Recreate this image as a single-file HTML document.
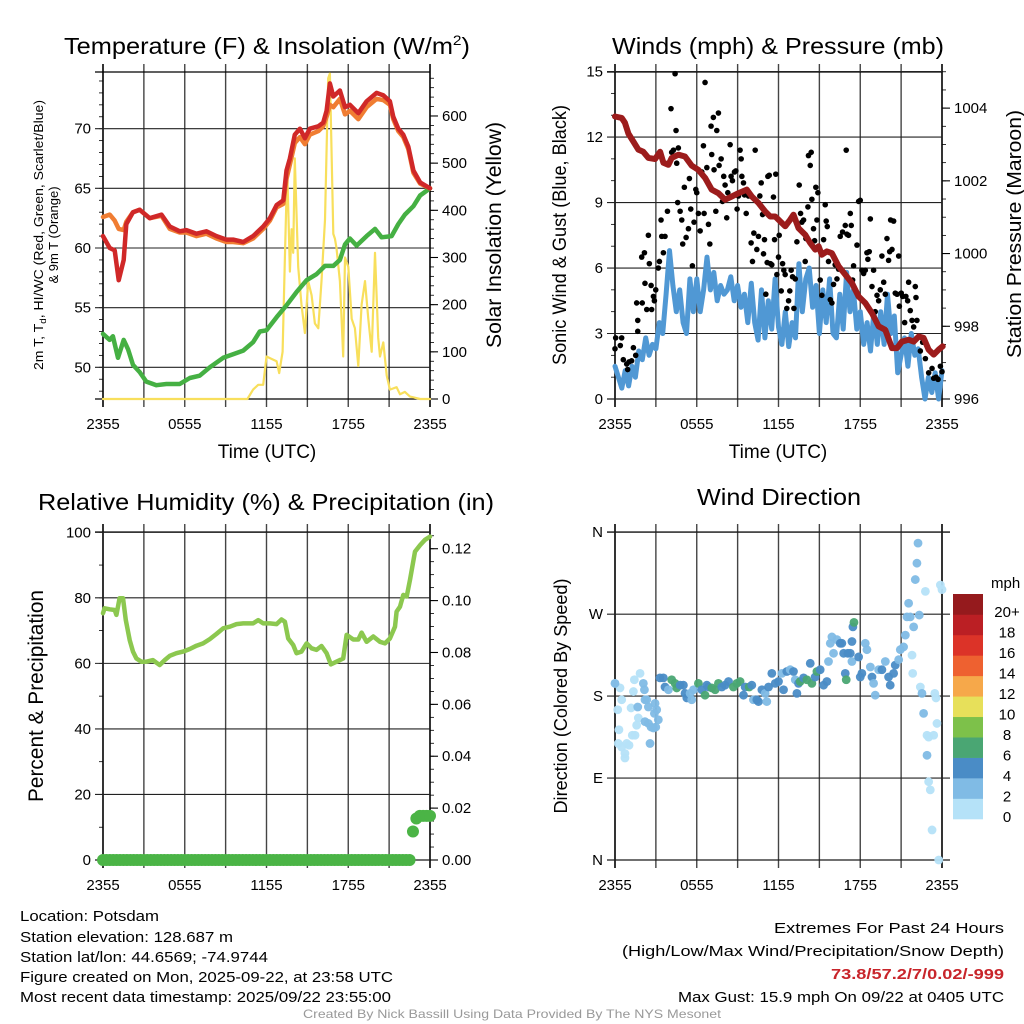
<!DOCTYPE html>
<html><head><meta charset="utf-8"><title>Station Meteogram</title>
<style>
html,body{margin:0;padding:0;background:#fff;}
svg{display:block;font-family:"Liberation Sans",Arial,sans-serif;}
</style></head>
<body>
<svg id="fig" width="1024" height="1024" viewBox="0 0 1024 1024" xmlns="http://www.w3.org/2000/svg">
<rect x="0" y="0" width="1024" height="1024" fill="#fff"/>
<text x="267" y="54" font-size="23" text-anchor="middle" textLength="406" lengthAdjust="spacingAndGlyphs">Temperature (F) &amp; Insolation (W/m<tspan dy="-9" font-size="14">2</tspan><tspan dy="9">)</tspan></text>
<text x="778" y="54" font-size="23" text-anchor="middle" textLength="332" lengthAdjust="spacingAndGlyphs">Winds (mph) &amp; Pressure (mb)</text>
<text x="266" y="510" font-size="23" text-anchor="middle" textLength="456" lengthAdjust="spacingAndGlyphs">Relative Humidity (%) &amp; Precipitation (in)</text>
<text x="779" y="505" font-size="23" text-anchor="middle" textLength="164" lengthAdjust="spacingAndGlyphs">Wind Direction</text>
<text x="267" y="458" font-size="19" text-anchor="middle">Time (UTC)</text>
<text x="778" y="458" font-size="19" text-anchor="middle">Time (UTC)</text>
<text transform="translate(43,235) rotate(-90)" font-size="13" text-anchor="middle" textLength="270" lengthAdjust="spacingAndGlyphs">2m T, T<tspan font-size="9" dy="3">d</tspan><tspan dy="-3">, HI/WC (Red, Green, Scarlet/Blue)</tspan></text>
<text transform="translate(58,235) rotate(-90)" font-size="13" text-anchor="middle">&amp; 9m T (Orange)</text>
<text transform="translate(501,235) rotate(-90)" font-size="21" text-anchor="middle" textLength="226" lengthAdjust="spacingAndGlyphs">Solar Insolation (Yellow)</text>
<text transform="translate(566,235) rotate(-90)" font-size="19" text-anchor="middle" textLength="260" lengthAdjust="spacingAndGlyphs">Sonic Wind &amp; Gust (Blue, Black)</text>
<text transform="translate(1021,234) rotate(-90)" font-size="20" text-anchor="middle" textLength="248" lengthAdjust="spacingAndGlyphs">Station Pressure (Maroon)</text>
<text transform="translate(43,696) rotate(-90)" font-size="21" text-anchor="middle" textLength="212" lengthAdjust="spacingAndGlyphs">Percent &amp; Precipitation</text>
<text transform="translate(567,696) rotate(-90)" font-size="18" text-anchor="middle" textLength="235" lengthAdjust="spacingAndGlyphs">Direction (Colored By Speed)</text>
<g font-size="15">
<text x="20" y="921" textLength="139" lengthAdjust="spacingAndGlyphs">Location: Potsdam</text>
<text x="20" y="942" textLength="213" lengthAdjust="spacingAndGlyphs">Station elevation: 128.687 m</text>
<text x="20" y="962" textLength="248" lengthAdjust="spacingAndGlyphs">Station lat/lon: 44.6569; -74.9744</text>
<text x="20" y="982" textLength="373" lengthAdjust="spacingAndGlyphs">Figure created on Mon, 2025-09-22, at 23:58 UTC</text>
<text x="20" y="1002" textLength="371" lengthAdjust="spacingAndGlyphs">Most recent data timestamp: 2025/09/22 23:55:00</text>
</g>
<g font-size="15" text-anchor="end">
<text x="1004" y="933" textLength="230" lengthAdjust="spacingAndGlyphs">Extremes For Past 24 Hours</text>
<text x="1004" y="956" textLength="382" lengthAdjust="spacingAndGlyphs">(High/Low/Max Wind/Precipitation/Snow Depth)</text>
<text x="1004" y="979" font-weight="bold" fill="#c8252b" textLength="173" lengthAdjust="spacingAndGlyphs">73.8/57.2/7/0.02/-999</text>
<text x="1004" y="1002" textLength="326" lengthAdjust="spacingAndGlyphs">Max Gust: 15.9 mph On 09/22 at 0405 UTC</text>
</g>
<text x="512" y="1018" font-size="12" fill="#999" text-anchor="middle" textLength="418" lengthAdjust="spacingAndGlyphs">Created By Nick Bassill Using Data Provided By The NYS Mesonet</text>
<g id="layer"></g>
</svg>
<script>
const xTickLabels = ["2355","0555","1155","1755","2355"];
const tempTimes = [0,0.49,0.86,1.15,1.52,1.71,2.2,2.69,3.43,4.29,4.9,5.63,6.12,6.86,7.59,8.33,9.06,9.55,10.29,11.02,11.76,12.25,12.74,13.23,13.47,13.72,14.08,14.45,14.82,15.18,15.8,16.16,16.41,16.65,16.9,17.39,17.76,18.12,18.74,19.35,20.08,20.57,21.06,21.31,21.67,22.04,22.41,22.78,23.27,24];
const tempValues = [61,60,59.8,57.3,59,62,63,63.2,62.5,62.8,61.8,61.4,61.5,61.2,61.4,61,60.7,60.7,60.5,61,61.8,62.5,63.6,64,66.5,67.5,69.5,70,69.2,70,70.2,70.5,71.5,73.8,72.7,73.2,71.8,72,71.3,72.3,73,72.8,72.3,71,70,69.5,68.5,66.5,65.5,65];
const temp9mValues = [62.6,62.8,62.3,61.6,61.5,62.2,63,63.2,62.5,62.7,61.6,61.3,61.3,61,61.2,60.8,60.5,60.5,60.4,60.8,61.6,62.3,63.4,63.7,65.8,67,68.8,69.3,68.7,69.5,69.8,70.2,71,72,71.8,72.5,71.2,71.5,70.8,71.8,72.5,72.4,72,70.8,69.8,69.3,68.3,66.3,65.4,65];
const dewTimes = [0,0.49,0.73,1.1,1.52,1.84,2.2,2.69,3.18,3.92,4.65,5.63,6.37,7.1,7.84,8.82,9.55,10.29,11.02,11.51,12,12.74,13.47,14.2,14.94,15.67,16.29,16.9,17.39,17.76,18.12,18.61,19.35,19.96,20.45,21.18,21.67,22.16,22.78,23.27,24];
const dewValues = [52.8,52.3,52.6,50.8,52.3,51.5,50.2,49.6,48.8,48.5,48.6,48.6,49.1,49.3,50,50.8,51.1,51.4,52.1,53,53.1,54.2,55.2,56.3,57.3,57.8,58.5,58.5,59,60.3,60.8,60.2,61,61.6,60.9,61,62,62.8,63.5,64.4,65];
const solarTimes = [0,10.6,11.02,11.39,11.76,12,12.37,12.74,12.93,13.18,13.35,13.52,13.72,13.84,13.96,14.08,14.33,14.57,14.82,15.06,15.31,15.55,15.8,16.04,16.29,16.53,16.65,16.9,17.02,17.14,17.39,17.63,17.76,18,18.25,18.49,18.74,18.98,19.23,19.47,19.72,19.96,20.2,20.33,20.57,20.82,21.06,21.55,21.8,22.16,22.53,23.27,24];
const solarValues = [0,0,20,30,30,90,85,80,55,100,300,490,270,360,310,510,280,200,140,250,220,160,150,250,380,680,690,350,340,320,250,90,300,280,170,150,70,200,250,170,100,310,130,90,120,50,20,25,10,15,5,0,0];

const windValues = [1.5,1.0,0.5,1.3,0.6,1.5,1.0,2.2,1.8,2.8,2.0,2.5,2.3,3.5,3.0,4.8,6.8,5.2,4.0,5.0,3.5,3.0,5.5,4.0,5.5,4.0,5.0,6.5,5.0,5.8,4.5,5.2,4.8,5.0,5.6,4.5,5.2,4.2,4.8,3.5,5.3,3.5,2.7,5.0,2.8,4.5,3.2,5.5,3.3,2.5,4.0,2.4,3.5,2.8,6.2,4.0,5.5,6.0,4.2,5.2,3.0,5.0,3.5,5.5,3.0,2.8,4.8,3.2,5.8,4.0,5.0,3.2,4.0,2.5,3.5,2.2,4.0,2.5,4.0,2.5,4.8,3.0,3.8,1.2,2.0,2.8,1.5,3.0,2.0,2.3,1.0,0.0,1.0,0.3,1.2,0.0,1.3];
const gustTimes = [0,0.05,0.49,0.39,0.61,0.86,0.93,1.03,1.22,1.35,1.52,1.67,1.67,1.59,1.96,2.16,2.0,2.2,2.33,2.45,2.52,2.65,2.69,2.82,2.89,2.99,3.18,3.26,3.38,3.43,3.55,3.67,3.85,4.11,4.16,4.29,4.41,4.48,4.53,4.65,4.6,4.78,4.9,4.97,5.09,5.22,5.39,5.46,5.56,5.68,5.8,5.93,6.0,6.12,6.25,6.37,6.49,6.54,6.61,6.74,6.86,6.96,7.05,7.1,7.22,7.27,7.4,7.47,7.59,7.64,7.79,7.89,7.98,8.08,8.2,8.28,8.45,8.52,8.62,8.77,8.87,8.96,9.06,9.18,9.26,9.31,9.43,9.5,9.63,9.8,9.99,10.09,10.19,10.29,10.41,10.53,10.63,10.73,10.83,10.9,10.97,11.07,11.17,11.22,11.32,11.41,11.51,11.63,11.71,11.8,11.88,12,12.05,12.2,12.3,12.39,12.49,12.61,12.74,12.83,12.93,13.03,13.13,13.23,13.35,13.52,13.62,13.72,13.84,13.96,14.01,14.16,14.2,14.33,14.4,14.45,14.57,14.65,14.74,14.82,14.89,15.06,15.18,15.31,15.43,15.5,15.58,15.67,15.8,15.92,16.04,16.16,16.29,16.41,16.53,16.7,16.9,16.97,17.02,17.14,17.27,17.34,17.44,17.51,17.63,17.76,17.88,18,18.12,18.25,18.37,18.49,18.56,18.66,18.74,18.86,18.98,19.1,19.23,19.35,19.47,19.59,19.72,19.84,19.96,20.08,20.16,20.23,20.33,20.45,20.57,20.7,20.82,20.87,21.01,21.11,21.26,21.35,21.48,21.55,21.67,21.8,21.92,22.04,22.09,22.16,22.29,22.41,22.58,22.78,23.02,23.27,23.39,23.56,23.71,23.88,24];
const gustValues = [2.3,2.8,2.8,2.45,1.8,1.6,1.35,1.7,1.75,2.35,2.0,3.1,3.6,4.4,6.5,6.7,4.4,5.3,4.1,7.5,6.2,5.2,4.1,4.7,4.5,5.0,6.0,6.3,8.2,7.45,6.7,7.45,8.6,13.3,11.3,11.4,14.9,12.3,10.8,11.5,9.0,8.6,8.2,7.1,9.7,7.4,7.8,10.1,8.7,6.1,8.1,9.6,9.45,8.5,7.7,10.4,11.6,8.5,14.5,10.6,8.0,7.1,12.5,11.2,12.9,10.5,8.6,12.3,13.1,10.7,11.0,9.05,10.2,9.8,8.3,9.45,11.65,10.2,10.0,10.4,10.45,8.7,9.3,11.4,11.0,10.2,9.9,9.35,8.5,9.3,7.15,6.3,7.6,11.4,6.85,7.45,9.3,9.9,8.45,6.65,7.3,4.8,6.25,10.2,10.25,6.2,6.15,9.25,7.3,10.3,5.7,6.5,7.5,4.95,6.2,5.9,5.7,4.15,4.5,4.95,5.9,5.6,4.15,5.5,7.2,9.8,8.5,8.1,8.2,6.3,7.35,8.8,11.15,10.7,11.3,9.15,7.8,7.25,9.7,8.2,9.45,5.45,4.75,7.3,8.9,8.15,7.9,6.3,4.55,4.4,5.25,6.15,5.5,5.95,7.45,7.65,7.95,11.4,7.55,7.5,8.5,7.95,5.45,6.1,5.0,7.05,9.05,9.1,5.9,5.75,5.9,6.7,6.4,6.75,8.25,5.15,5.9,4.0,4.75,4.5,5.0,6.55,5.35,4.8,7.35,6.35,6.75,8.2,6.85,8.15,4.85,4.8,6.55,4.25,4.85,4.7,3.5,4.7,4.5,5.35,4.05,3.6,3.3,5.15,4.65,3.6,2.85,2.2,2.6,1.85,1.2,1.4,0.95,1.0,0.9,1.5,1.25];
const pressTimes = [0,0.49,0.73,0.98,1.35,1.71,2.08,2.45,2.94,3.31,3.55,3.92,4.16,4.65,5.14,5.63,6.12,6.61,7.1,7.59,8.08,8.57,9.06,9.67,10.04,10.53,11.02,11.39,11.76,12,12.49,12.86,13.1,13.47,13.96,14.33,14.69,14.94,15.18,15.55,15.92,16.41,16.9,17.39,17.88,18.37,18.86,19.35,19.84,20.33,20.7,21.06,21.55,21.92,22.29,22.65,23.02,23.39,23.76,24.05];
const pressValues = [1003.77,1003.73,1003.6,1003.3,1003.08,1002.86,1002.8,1002.63,1002.6,1002.8,1002.5,1002.44,1002.63,1002.72,1002.67,1002.42,1002.3,1002.08,1001.76,1001.66,1001.48,1001.57,1001.66,1001.76,1001.57,1001.39,1001.16,1001.02,1001.02,1000.93,1000.75,1000.93,1001.07,1000.7,1000.52,1000.29,1000.11,1000.2,999.97,1000.06,1000.01,999.65,999.42,999.19,998.82,998.64,998.36,998.0,997.9,997.4,997.4,997.58,997.63,997.58,997.72,997.68,997.36,997.22,997.36,997.45];

const rhTimes = [0,0.12,0.49,0.86,0.98,1.22,1.47,1.67,1.96,2.2,2.45,2.82,3.18,3.67,3.92,4.16,4.53,4.9,5.39,5.88,6.37,6.86,7.35,7.84,8.33,8.82,9.31,9.8,10.29,11.02,11.39,11.76,12.25,12.74,13.1,13.35,13.59,13.96,14.2,14.57,14.94,15.31,15.67,16.04,16.41,16.73,17.14,17.63,17.88,18.37,18.74,18.98,19.35,19.84,20.33,20.7,21.06,21.43,21.55,21.8,22.04,22.29,22.53,22.9,23.27,23.63,24];
const rhValues = [75.3,76.8,76.5,76.3,74.8,79.9,79.9,73.2,67.1,63.6,61.5,60.5,60.5,61,60.2,59.5,61,62.3,63.1,63.6,64.4,65.4,66.1,67.4,69,70.7,71.2,72,72.2,72.2,73.2,72.2,72.2,72,73.4,72.7,67.6,65.6,63.1,63.6,66.1,64.6,64.1,65.3,63.1,59.7,60.5,61.5,68.7,67.3,67.3,69.4,66.6,68.2,66.6,66.1,67.6,71.2,75.8,77.3,80.9,80.4,85.5,94.1,96.1,97.7,98.7];
const precipValues = [0,0,0,0,0,0,0,0,0,0,0,0,0,0,0,0,0,0,0,0,0,0,0,0,0,0,0,0,0,0,0,0,0,0,0,0,0,0,0,0,0,0,0,0,0,0,0,0,0,0,0,0,0,0,0,0,0,0,0,0,0,0,0,0,0,0,0,0,0,0,0,0,0,0,0,0,0,0,0,0,0,0,0,0,0,0,0,0,0,0,0,0.011,0.016,0.017,0.017,0.017,0.017];

const dirTimes = [0,0.2,0.37,0.49,0.29,0.24,0.49,0.73,0.86,1.03,0.73,1.18,1.27,1.47,1.35,1.42,1.71,1.84,1.59,0,1.67,2.08,2.16,2.2,2.33,2.45,2.2,2.45,2.65,2.82,2.57,2.94,3.06,3.18,2.89,2.99,3.3,3.55,3.67,3.92,4.16,4.41,4.53,4.78,5.02,5.14,5.27,5.51,5.63,5.76,6.12,6.37,6.61,6.74,6.86,7.1,7.35,7.59,7.84,8.08,8.33,8.69,8.94,9.18,9.43,9.55,9.85,10.04,10.16,10.41,10.53,10.78,11.02,11.14,11.27,11.51,11.76,12,12.25,12.37,12.61,12.86,13.1,13.23,13.35,13.47,13.59,13.84,14.08,14.33,14.45,14.69,14.82,15.06,15.31,15.55,15.67,15.8,15.92,16.04,16.29,16.53,16.65,16.78,16.9,16.97,17.09,17.27,17.39,17.46,17.54,17.39,17.88,18,18.12,18.37,18.49,18.74,18.86,18.98,19.1,19.35,19.59,19.84,20.08,20.2,20.45,20.57,20.82,20.94,21.18,21.31,21.55,21.43,21.67,21.92,21.8,21.85,22.04,22.16,22.24,22.33,22.78,22.41,22.53,22.65,22.9,23.02,22.9,23.02,23.14,23.27,23.39,23.47,23.56,23.63,23.76,23.88,24];
const dirValues = [194,165,189,176,143,128,124,117,128,126,112,167,137,137,185,198,156,205,148,194,168,194,187,176,176,168,152,150,146,145,128,172,165,154,161,146,200,200,190,187,198,194,189,192,192,183,178,183,176,187,194,187,181,192,190,189,187,194,190,192,196,190,194,196,181,190,190,192,176,176,174,187,183,174,190,205,194,196,205,187,207,209,207,198,183,194,196,200,198,216,194,201,207,209,192,196,218,238,245,227,242,238,238,227,205,198,227,227,218,256,261,240,223,201,205,238,231,212,201,194,181,209,209,218,201,192,205,214,220,231,234,247,282,267,267,256,225,205,308,326,348,269,295,190,183,161,137,135,115,86,77,33,137,183,178,150,0,302,297];
const dirSpeeds = [1,1,1,1,1,1,1,1,1,1,1,1,1,1,1,1,1,1,1,3,3,3,3,3,3,3,3,3,3,3,3,3,3,3,3,3,4,4,4,3,6,6,6,4,4,4,4,3,2,3,6,4,6,4,4,6,6,6,4,4,4,6,6,6,4,4,6,4,3,4,4,4,3,2,4,4,4,4,2,4,4,3,4,3,4,4,6,4,6,4,6,4,6,4,4,4,2,2,2,2,2,4,4,4,4,6,4,4,2,4,6,4,4,4,4,2,2,2,4,2,2,2,4,2,4,4,4,4,2,2,2,2,2,2,2,3,1,1,2,2,2,2,1,1,2,3,1,1,3,1,1,1,1,1,1,1,1,1,1];
const speedBins = ["0","2","4","6","8","10","12","14","16","18","20+"];
const speedColors = ["#b5e2f8","#80bbe5","#4a8cc6","#4aa673","#7dc14a","#e7e05a","#f6a84a","#ee6130","#dc3328","#bb1f24","#951a1d"];

const NS = "http://www.w3.org/2000/svg";
const layer = document.getElementById("layer");
function mk(tag, attrs, parent){ const e=document.createElementNS(NS,tag); for(const k in attrs) e.setAttribute(k,attrs[k]); (parent||layer).appendChild(e); return e; }
function txt(str, attrs, parent){ const e=mk("text",attrs,parent); e.textContent=str; return e; }
const HPX = 327/24;
const xL = h => 103 + h*HPX;
const xR = h => 615 + h*HPX;
const yTemp = v => 128.7 + (70-v)*11.93;
const ySolar = w => 399 - w*0.4717;
const yWind = v => 399 - v*21.83;
const yPress = p => 399 - (p-996)*36.36;
const yRH = v => 860 - v*3.277;
const yPrecip = p => 860 - p*2594;
const yDir = d => 860 - d*0.9105;

function frame(x0, x1, y0, y1, hExtendRight, name){
  const g = mk("g",{});
  
  
  for(let i=0;i<=8;i++){
    const x = x0 + i*(x1-x0)/8;
    const l = mk("line",{x1:x,y1:y0-8,x2:x,y2:y1+8,stroke:(i===0||i===8)?"#000":"#444","stroke-width":(i===0||i===8)?1.6:1.4},g);
    
    
  }
  for(let i=0;i<5;i++){
    const t = txt(xTickLabels[i],{x:x0+i*(x1-x0)/4,y:y1+30,"font-size":15,"text-anchor":"middle"},g);
    
    
  }
  const b = mk("line",{x1:x0-8,y1:y0,x2:x1+hExtendRight,y2:y0,stroke:"#000","stroke-width":1.2},g);
  
  
  const bb = mk("line",{x1:x0-8,y1:y1,x2:x1+hExtendRight,y2:y1,stroke:"#000","stroke-width":1.2},g);
  
  
  return g;
}
function leftAxis(g, x0, x1, vals, labels, yf, minors, name){
  for(const m of minors){
    const t = mk("line",{x1:x0-4,y1:yf(m),x2:x0,y2:yf(m),stroke:"#000","stroke-width":0.8},g);
    
    
  }
  vals.forEach((v,i)=>{
    const y = yf(v);
    const gl = mk("line",{x1:x0-8,y1:y,x2:x1,y2:y,stroke:"#222","stroke-width":1.1},g);
    
    
    const t = txt(labels[i],{x:x0-12,y:y+5,"font-size":15,"text-anchor":"end"},g);
    
    
  });
}
function rightAxis(g, x1, vals, labels, yf, minors, name){
  for(const m of minors){
    const t = mk("line",{x1:x1,y1:yf(m),x2:x1+4,y2:yf(m),stroke:"#000","stroke-width":0.8},g);
    
    
  }
  vals.forEach((v,i)=>{
    const y = yf(v);
    const tk = mk("line",{x1:x1,y1:y,x2:x1+8,y2:y,stroke:"#000","stroke-width":1.1},g);
    
    
    const t = txt(labels[i],{x:x1+12,y:y+5,"font-size":15},g);
    
    
  });
}
function range(a,b,s){ const r=[]; for(let v=a; v<=b+1e-9; v+=s) r.push(+v.toFixed(4)); return r; }
function path(times, vals, xf, yf, color, w, name, parent){
  let d=""; times.forEach((t,i)=>{ d += (i?"L":"M") + xf(t).toFixed(1)+","+yf(vals[i]).toFixed(1); });
  const p = mk("path",{d:d,fill:"none",stroke:color,"stroke-width":w,"stroke-linejoin":"round","stroke-linecap":"round"},parent);
  
  
  return p;
}

const g1 = frame(103,430,72,399,0,"temperature-panel");
leftAxis(g1,103,430,[50,55,60,65,70],["50","55","60","65","70"],yTemp,range(48,74,1),"temp-axis");
rightAxis(g1,430,[0,100,200,300,400,500,600],["0","100","200","300","400","500","600"],ySolar,range(0,680,20),"solar-axis");
path(solarTimes,solarValues,xL,ySolar,"#f8df5c",2.2,"solar-insolation-line",g1);
path(dewTimes,dewValues,xL,yTemp,"#45b043",4.5,"dewpoint-line",g1);
path(tempTimes,temp9mValues,xL,yTemp,"#f07d32",4.5,"temperature-9m-line",g1);
path(tempTimes,tempValues,xL,yTemp,"#d02828",4.5,"temperature-2m-line",g1);

const g2 = frame(615,942,72,399,0,"wind-panel");
leftAxis(g2,615,942,[0,3,6,9,12,15],["0","3","6","9","12","15"],yWind,range(0,15,1),"wind-axis");
rightAxis(g2,942,[996,998,1000,1002,1004],["996","998","1000","1002","1004"],yPress,range(996,1005,0.5),"pressure-axis");
const windTimes = windValues.map((v,i)=>i*0.25);
path(windTimes,windValues,xR,yWind,"#5098d4",5,"sonic-wind-line",g2);
gustTimes.forEach((t,i)=>{
  const c = mk("circle",{cx:xR(t),cy:yWind(gustValues[i]),r:2.8,fill:"#000"},g2);
  
  
});
path(pressTimes,pressValues,xR,yPress,"#9c1c1c",6,"station-pressure-line",g2);

const g3 = frame(103,430,532,860,0,"humidity-panel");
leftAxis(g3,103,430,[0,20,40,60,80,100],["0","20","40","60","80","100"],yRH,range(0,100,10),"humidity-axis");
rightAxis(g3,430,[0,0.02,0.04,0.06,0.08,0.10,0.12],["0.00","0.02","0.04","0.06","0.08","0.10","0.12"],yPrecip,range(0,0.125,0.005),"precip-axis");
path(rhTimes,rhValues,xL,yRH,"#8cc84f",4.5,"relative-humidity-line",g3);
precipValues.forEach((p,i)=>{
  const c = mk("circle",{cx:xL(i*0.25),cy:yPrecip(p),r:6,fill:"#4bb446"},g3);
  
  
});

const g4 = frame(615,942,532,860,8,"direction-panel");
leftAxis(g4,615,950,[0,90,180,270,360],["N","E","S","W","N"],yDir,[],"direction-axis");
dirTimes.forEach((t,i)=>{
  const bin = Math.min(10, Math.floor(dirSpeeds[i]/2));
  const c = mk("circle",{cx:xR(t),cy:yDir(dirValues[i]),r:4.4,fill:speedColors[bin],"fill-opacity":0.95},g4);
  
  
});
const cb = mk("g",{});


const cbTitle = txt("mph",{x:991,y:588,"font-size":15},cb);


const boxH = 225/11;
speedBins.forEach((lab,i)=>{
  const y = 819 - (i+1)*boxH;
  const r = mk("rect",{x:953,y:y,width:30,height:boxH+0.3,fill:speedColors[i]},cb);
  
  
  const t = txt(lab,{x:1007,y:y+boxH/2+13,"font-size":15,"text-anchor":"middle"},cb);
  
  
});
</script>
</body></html>
